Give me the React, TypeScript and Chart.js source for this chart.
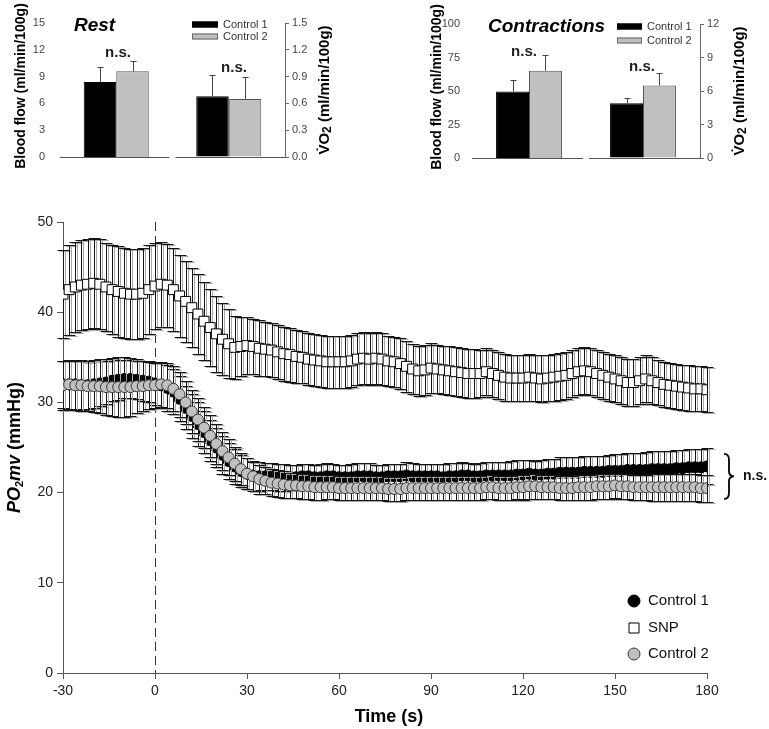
import React, { useEffect, useRef } from "react";
import { Chart, registerables } from "chart.js";
Chart.register(...registerables);

const FONT = "'Liberation Sans', Arial, Helvetica, sans-serif";

// ---------- Main chart data (PO2mv, mmHg) ----------
const TIME = [
  -30, -28, -26, -24, -22, -20, -18, -16, -14, -12,
  -10, -8, -6, -4, -2, 0, 2, 4, 6, 8,
  10, 12, 14, 16, 18, 20, 22, 24, 26, 28,
  30, 32, 34, 36, 38, 40, 42, 44, 46, 48,
  50, 52, 54, 56, 58, 60, 62, 64, 66, 68,
  70, 72, 74, 76, 78, 80, 82, 84, 86, 88,
  90, 92, 94, 96, 98, 100, 102, 104, 106, 108,
  110, 112, 114, 116, 118, 120, 122, 124, 126, 128,
  130, 132, 134, 136, 138, 140, 142, 144, 146, 148,
  150, 152, 154, 156, 158, 160, 162, 164, 166, 168,
  170, 172, 174, 176, 178, 180,
];

const SNP_MEAN = [
  42.0, 42.5, 42.8, 43.0, 43.1, 43.2, 43.1, 42.8, 42.5, 42.3,
  42.1, 42.0, 42.0, 42.1, 42.5, 42.9, 43.1, 43.0, 42.5, 41.8,
  41.2, 40.5, 39.8, 39.0, 38.3, 37.6, 37.0, 36.5, 36.1, 36.2,
  36.3, 36.2, 36.0, 35.9, 35.8, 35.6, 35.4, 35.3, 35.1, 35.0,
  34.8, 34.7, 34.6, 34.5, 34.5, 34.5, 34.5, 34.6, 34.8, 34.9,
  34.8, 34.9, 34.8, 34.6, 34.5, 34.3, 34.0, 33.7, 33.5, 33.6,
  33.8, 33.7, 33.6, 33.5, 33.4, 33.3, 33.2, 33.2, 33.2, 33.4,
  33.2, 33.0, 32.8, 32.7, 32.7, 32.7, 32.8, 32.7, 32.6, 32.7,
  32.8, 32.9, 33.0, 33.2, 33.4, 33.5, 33.4, 33.2, 33.0, 32.8,
  32.6, 32.4, 32.2, 32.2, 32.4, 32.6, 32.4, 32.2, 32.0, 31.9,
  31.8, 31.7, 31.6, 31.5, 31.5, 31.4,
];
const SNP_SD = [
  4.9, 5.0, 5.0, 5.0, 5.0, 5.0, 5.0, 4.9, 4.9, 5.0,
  5.0, 5.0, 5.0, 5.0, 4.9, 4.8, 4.7, 4.6, 4.6, 4.5,
  4.5, 4.4, 4.4, 4.3, 4.3, 4.2, 4.0, 3.8, 3.5, 3.3,
  3.2, 3.1, 3.1, 3.0, 3.0, 3.0, 3.0, 3.0, 2.9, 2.9,
  2.9, 2.9, 2.9, 2.9, 2.9, 2.9, 2.9, 2.9, 2.9, 2.9,
  2.9, 2.9, 2.9, 2.8, 2.8, 2.8, 2.8, 2.8, 2.8, 2.8,
  2.8, 2.7, 2.7, 2.7, 2.7, 2.7, 2.7, 2.7, 2.6, 2.6,
  2.6, 2.6, 2.6, 2.6, 2.6, 2.6, 2.6, 2.6, 2.6, 2.6,
  2.6, 2.6, 2.6, 2.6, 2.6, 2.6, 2.6, 2.6, 2.6, 2.6,
  2.6, 2.6, 2.6, 2.6, 2.6, 2.6, 2.6, 2.5, 2.5, 2.5,
  2.5, 2.5, 2.5, 2.5, 2.5, 2.5,
];

const C1_MEAN = [
  32.0, 32.0, 32.0, 31.9, 31.9, 32.0, 32.1, 32.2, 32.4, 32.5,
  32.6, 32.6, 32.5, 32.4, 32.3, 32.1, 31.9, 31.6, 31.2, 30.4,
  29.4, 28.5, 27.6, 26.7, 25.8, 25.0, 24.2, 23.5, 22.9, 22.4,
  22.1, 21.9, 21.8, 21.8, 21.8, 21.7, 21.7, 21.7, 21.7, 21.8,
  21.8, 21.7, 21.7, 21.8, 21.8, 21.7, 21.7, 21.7, 21.8, 21.8,
  21.8, 21.7, 21.7, 21.8, 21.8, 21.8, 21.9, 21.8, 21.8, 21.8,
  21.8, 21.8, 21.7, 21.8, 21.8, 21.9, 21.9, 21.8, 21.8, 21.9,
  21.9, 21.9, 21.9, 21.9, 22.0, 22.0, 22.1, 22.0, 22.0, 22.1,
  22.1, 22.2, 22.2, 22.2, 22.2, 22.3, 22.3, 22.3, 22.3, 22.4,
  22.4, 22.4, 22.5, 22.5, 22.5, 22.5, 22.6, 22.6, 22.6, 22.6,
  22.7, 22.7, 22.8, 22.8, 22.8, 22.9,
];
const C1_SD = [
  2.6, 2.7, 2.7, 2.7, 2.6, 2.6, 2.5, 2.4, 2.3, 2.2,
  2.1, 2.1, 2.1, 2.2, 2.3, 2.4, 2.5, 2.5, 2.5, 2.5,
  2.4, 2.4, 2.4, 2.3, 2.3, 2.2, 2.1, 2.0, 1.9, 1.8,
  1.7, 1.6, 1.6, 1.5, 1.5, 1.5, 1.5, 1.4, 1.4, 1.4,
  1.4, 1.4, 1.5, 1.5, 1.4, 1.4, 1.4, 1.5, 1.5, 1.5,
  1.5, 1.4, 1.4, 1.4, 1.4, 1.4, 1.5, 1.5, 1.4, 1.4,
  1.4, 1.4, 1.5, 1.5, 1.5, 1.5, 1.4, 1.4, 1.5, 1.5,
  1.5, 1.5, 1.5, 1.6, 1.6, 1.6, 1.5, 1.5, 1.6, 1.6,
  1.6, 1.7, 1.7, 1.7, 1.8, 1.8, 1.8, 1.8, 1.8, 1.8,
  1.9, 1.9, 1.9, 1.9, 1.9, 2.0, 2.0, 2.0, 2.0, 2.0,
  2.0, 2.0, 2.0, 2.0, 2.0, 2.0,
];

const C2_MEAN = [
  31.9, 32.0, 31.9, 31.9, 31.8, 31.8, 31.8, 31.7, 31.7, 31.7,
  31.7, 31.7, 31.8, 31.8, 31.9, 31.9, 32.0, 31.9, 31.5, 30.9,
  30.0, 29.0, 28.1, 27.2, 26.3, 25.4, 24.6, 23.9, 23.2, 22.6,
  22.1, 21.8, 21.5, 21.3, 21.1, 21.0, 20.9, 20.8, 20.8, 20.7,
  20.7, 20.6, 20.6, 20.6, 20.6, 20.5, 20.5, 20.5, 20.5, 20.5,
  20.5, 20.5, 20.5, 20.4, 20.4, 20.4, 20.5, 20.5, 20.5, 20.5,
  20.5, 20.5, 20.5, 20.5, 20.5, 20.5, 20.5, 20.5, 20.5, 20.6,
  20.6, 20.5, 20.5, 20.5, 20.6, 20.6, 20.7, 20.7, 20.6, 20.6,
  20.6, 20.5, 20.5, 20.5, 20.6, 20.6, 20.6, 20.7, 20.7, 20.7,
  20.8, 20.7, 20.7, 20.6, 20.6, 20.6, 20.6, 20.6, 20.6, 20.6,
  20.6, 20.6, 20.6, 20.6, 20.5, 20.5,
];
const C2_SD = [
  2.7, 2.7, 2.7, 2.8, 2.8, 2.9, 3.0, 3.1, 3.2, 3.3,
  3.3, 3.2, 3.0, 2.8, 2.6, 2.5, 2.5, 2.5, 2.5, 2.5,
  2.4, 2.4, 2.4, 2.3, 2.3, 2.2, 2.1, 2.0, 1.9, 1.8,
  1.7, 1.6, 1.6, 1.5, 1.5, 1.5, 1.5, 1.4, 1.4, 1.4,
  1.4, 1.4, 1.4, 1.3, 1.3, 1.3, 1.3, 1.3, 1.3, 1.3,
  1.3, 1.3, 1.3, 1.3, 1.3, 1.3, 1.3, 1.3, 1.3, 1.3,
  1.3, 1.3, 1.3, 1.3, 1.3, 1.3, 1.3, 1.3, 1.3, 1.3,
  1.3, 1.3, 1.3, 1.3, 1.3, 1.4, 1.4, 1.4, 1.3, 1.3,
  1.3, 1.3, 1.3, 1.3, 1.4, 1.4, 1.4, 1.4, 1.4, 1.4,
  1.4, 1.4, 1.4, 1.4, 1.4, 1.4, 1.5, 1.5, 1.5, 1.5,
  1.5, 1.5, 1.5, 1.5, 1.5, 1.5,
];

const X_MIN = -30;
const X_MAX = 180;
const X_STEP = 30;
const Y_MIN = 0;
const Y_MAX = 50;
const Y_STEP = 10;

// ---------- Inset data ----------
const GROUPS = ["Control 1", "Control 2"];
const REST_FLOW_MEAN = [8.4, 9.6];
const REST_FLOW_SD = [1.7, 1.2];
const REST_VO2_MEAN = [0.68, 0.65];
const REST_VO2_SD = [0.24, 0.24];
const CONTR_FLOW_MEAN = [49.6, 65.2];
const CONTR_FLOW_SD = [8.6, 12.0];
const CONTR_VO2_MEAN = [4.9, 6.5];
const CONTR_VO2_SD = [0.5, 1.1];

type Part = { t: string; font: string; dy?: number };

function drawParts(ctx: CanvasRenderingContext2D, parts: Part[], cx: number, cy: number, rotate: boolean, color: string) {
  ctx.save();
  ctx.translate(cx, cy);
  if (rotate) ctx.rotate(-Math.PI / 2);
  ctx.fillStyle = color;
  ctx.textBaseline = "middle";
  ctx.textAlign = "left";
  let total = 0;
  for (const p of parts) {
    ctx.font = p.font;
    total += ctx.measureText(p.t).width;
  }
  let x = -total / 2;
  for (const p of parts) {
    ctx.font = p.font;
    ctx.fillText(p.t, x, p.dy || 0);
    x += ctx.measureText(p.t).width;
  }
  ctx.restore();
}

const errorBarPlugin = {
  id: "errorBars",
  beforeDatasetDraw(chart: any, args: any) {
    const ds = chart.data.datasets[args.index];
    const sd: number[] | undefined = ds.sd;
    if (!sd) return;
    const xs = chart.scales.x;
    const ys = chart.scales.y;
    const ctx: CanvasRenderingContext2D = chart.ctx;
    ctx.save();
    const cap = 6;
    const drawSet = (dx: number, dy: number, color: string) => {
      ctx.strokeStyle = color;
      ctx.lineWidth = 1;
      ctx.beginPath();
      ds.data.forEach((p: any, i: number) => {
        const x = Math.round(xs.getPixelForValue(p.x)) + 0.5 + dx;
        const yT = Math.round(ys.getPixelForValue(p.y + sd[i])) + 0.5 + dy;
        const yB = Math.round(ys.getPixelForValue(p.y - sd[i])) + 0.5 + dy;
        ctx.moveTo(x, yT);
        ctx.lineTo(x, yB);
        ctx.moveTo(x - cap, yT);
        ctx.lineTo(x + cap, yT);
        ctx.moveTo(x - cap, yB);
        ctx.lineTo(x + cap, yB);
      });
      ctx.stroke();
    };
    drawSet(2, 1, "#a8a8a8");
    drawSet(0, 0, "#151515");
    ctx.restore();
  },
};

const mainOverlayPlugin = {
  id: "mainOverlay",
  beforeDatasetsDraw(chart: any) {
    const ctx: CanvasRenderingContext2D = chart.ctx;
    const xs = chart.scales.x;
    const a = chart.chartArea;
    const x = Math.round(xs.getPixelForValue(0)) + 0.5;
    ctx.save();
    ctx.strokeStyle = "#333";
    ctx.lineWidth = 1;
    ctx.setLineDash([9, 5]);
    ctx.beginPath();
    ctx.moveTo(x, a.top);
    ctx.lineTo(x, a.bottom);
    ctx.stroke();
    ctx.restore();
  },
  afterDraw(chart: any) {
    const ctx: CanvasRenderingContext2D = chart.ctx;
    const a = chart.chartArea;
    const ys = chart.scales.y;
    // axis titles
    drawParts(
      ctx,
      [
        { t: "PO", font: `italic bold 18px ${FONT}` },
        { t: "2", font: `bold 11px ${FONT}`, dy: 5 },
        { t: "mv", font: `italic bold 18px ${FONT}` },
        { t: " (mmHg)", font: `bold 18px ${FONT}` },
      ],
      15,
      (a.top + a.bottom) / 2,
      true,
      "#000"
    );
    drawParts(ctx, [{ t: "Time (s)", font: `bold 18px ${FONT}` }], (a.left + a.right) / 2 + 4, 717, false, "#000");

    // legend
    const order = ["Control 1", "SNP", "Control 2"];
    const lx = a.right - 73;
    const lys = [a.bottom - 72, a.bottom - 45, a.bottom - 19];
    order.forEach((lab, k) => {
      const ds = chart.data.datasets.find((d: any) => d.label === lab);
      const y = lys[k];
      ctx.save();
      ctx.fillStyle = ds.pointBackgroundColor;
      ctx.strokeStyle = ds.pointBorderColor;
      ctx.lineWidth = 1;
      ctx.beginPath();
      if (ds.pointStyle === "rect") {
        ctx.rect(lx - 5, y - 5, 10, 10);
      } else {
        ctx.arc(lx, y, 6, 0, Math.PI * 2);
      }
      ctx.fill();
      ctx.stroke();
      ctx.fillStyle = "#111";
      ctx.font = `15px ${FONT}`;
      ctx.textBaseline = "middle";
      ctx.textAlign = "left";
      ctx.fillText(lab, lx + 14, y);
      ctx.restore();
    });

    // brace + n.s.
    const bx = a.right + 17;
    const yT = ys.getPixelForValue(24.3);
    const yB = ys.getPixelForValue(19.3);
    const ym = (yT + yB) / 2;
    ctx.save();
    ctx.strokeStyle = "#000";
    ctx.lineWidth = 1.8;
    ctx.beginPath();
    ctx.moveTo(bx, yT);
    ctx.quadraticCurveTo(bx + 5, yT, bx + 5, yT + 6);
    ctx.lineTo(bx + 5, ym - 5);
    ctx.quadraticCurveTo(bx + 5, ym, bx + 10, ym);
    ctx.quadraticCurveTo(bx + 5, ym, bx + 5, ym + 5);
    ctx.lineTo(bx + 5, yB - 6);
    ctx.quadraticCurveTo(bx + 5, yB, bx, yB);
    ctx.stroke();
    ctx.fillStyle = "#111";
    ctx.font = `bold 14px ${FONT}`;
    ctx.textBaseline = "middle";
    ctx.textAlign = "left";
    ctx.fillText("n.s.", bx + 19, ym);
    ctx.restore();
  },
};

function MainChart() {
  const ref = useRef<HTMLCanvasElement>(null);
  useEffect(() => {
    const pts = (vals: number[]) => TIME.map((t, i) => ({ x: t, y: vals[i] }));
    const axisCommon = {
      grid: { display: true, drawOnChartArea: false, drawTicks: true, tickLength: 6, color: "#555" },
      border: { display: true, color: "#555" },
    };
    const chart = new Chart(ref.current!, {
      type: "scatter",
      data: {
        datasets: [
          {
            label: "Control 2",
            data: pts(C2_MEAN),
            sd: C2_SD,
            pointStyle: "circle",
            pointRadius: 5.5,
            pointBackgroundColor: "#c0c0c0",
            pointBorderColor: "#3a3a3a",
            pointBorderWidth: 1,
            order: 1,
          } as any,
          {
            label: "Control 1",
            data: pts(C1_MEAN),
            sd: C1_SD,
            pointStyle: "circle",
            pointRadius: 5.5,
            pointBackgroundColor: "#000",
            pointBorderColor: "#000",
            pointBorderWidth: 1,
            order: 2,
          } as any,
          {
            label: "SNP",
            data: pts(SNP_MEAN),
            sd: SNP_SD,
            pointStyle: "rect",
            pointRadius: 7,
            pointBackgroundColor: "#fff",
            pointBorderColor: "#000",
            pointBorderWidth: 1,
            order: 3,
          } as any,
        ],
      },
      options: {
        animation: false,
        responsive: false,
        events: [],
        layout: { padding: { top: 222, right: 62, left: 0, bottom: 0 } },
        plugins: { legend: { display: false }, tooltip: { enabled: false } },
        scales: {
          x: {
            type: "linear",
            min: X_MIN,
            max: X_MAX,
            ...axisCommon,
            ticks: { stepSize: X_STEP, color: "#222", font: { family: FONT, size: 14 }, padding: 4, maxRotation: 0 },
            afterFit: (s: any) => {
              s.height = 56;
            },
          },
          y: {
            min: Y_MIN,
            max: Y_MAX,
            ...axisCommon,
            ticks: { stepSize: Y_STEP, color: "#222", font: { family: FONT, size: 14 }, padding: 4 },
            afterFit: (s: any) => {
              s.width = 63;
            },
          },
        },
      } as any,
      plugins: [errorBarPlugin, mainOverlayPlugin],
    });
    return () => chart.destroy();
  }, []);
  return <canvas ref={ref} width={769} height={729} style={{ position: "absolute", left: 0, top: 0 }} />;
}

type InsetCfg = {
  left: number;
  width: number;
  height: number;
  areaLeft: number;
  areaRight: number;
  areaTop: number;
  areaBottom: number;
  flowMax: number;
  flowStep: number;
  vo2Max: number;
  vo2Step: number;
  vo2Dec: number;
  flowMean: number[];
  flowSd: number[];
  vo2Mean: number[];
  vo2Sd: number[];
  title: string;
  titleX: number;
  titleY: number;
  legendX: number;
  legendW: number;
  legendY: number[];
  ns: number[][];
  flowTitleX: number;
  vo2TitleX: number;
  labelPad: number;
};

const insetPlugin = {
  id: "insetOverlay",
  afterDatasetsDraw(chart: any) {
    const ctx: CanvasRenderingContext2D = chart.ctx;
    const cfg: InsetCfg = chart.options.plugins.insetOverlay.cfg;
    const a = chart.chartArea;
    const xs = chart.scales.x;
    // split baseline
    const c0 = xs.getPixelForValue(0);
    const c1 = xs.getPixelForValue(1);
    const mid = (c0 + c1) / 2;
    ctx.save();
    ctx.strokeStyle = "#555";
    ctx.lineWidth = 1;
    ctx.beginPath();
    const by = Math.round(a.bottom) + 0.5;
    ctx.moveTo(a.left, by);
    ctx.lineTo(mid - 3, by);
    ctx.moveTo(mid + 3, by);
    ctx.lineTo(a.right, by);
    ctx.stroke();
    // error bars (upward)
    ctx.strokeStyle = "#444";
    chart.data.datasets.forEach((ds: any, di: number) => {
      const meta = chart.getDatasetMeta(di);
      const sc = chart.scales[ds.yAxisID];
      ds.data.forEach((v: number | null, i: number) => {
        if (v == null) return;
        const el = meta.data[i];
        const x = Math.round(el.x) + 0.5;
        const top = Math.round(sc.getPixelForValue(v + ds.err[i])) + 0.5;
        const y0 = sc.getPixelForValue(v);
        ctx.beginPath();
        ctx.moveTo(x, y0);
        ctx.lineTo(x, top);
        ctx.moveTo(x - 3, top);
        ctx.lineTo(x + 3, top);
        ctx.stroke();
      });
    });
    ctx.restore();

    // title
    ctx.save();
    ctx.fillStyle = "#000";
    ctx.font = `italic bold 19px ${FONT}`;
    ctx.textBaseline = "middle";
    ctx.textAlign = "left";
    ctx.fillText(cfg.title, cfg.titleX, cfg.titleY);
    // legend
    const fills = ["#000", "#c0c0c0"];
    GROUPS.forEach((g, k) => {
      const y = cfg.legendY[k];
      ctx.fillStyle = fills[k];
      ctx.fillRect(cfg.legendX, y - 3, cfg.legendW, 6);
      ctx.strokeStyle = k === 0 ? "#000" : "#666";
      ctx.lineWidth = 1;
      ctx.strokeRect(cfg.legendX + 0.5, y - 2.5, cfg.legendW - 1, 5);
      ctx.fillStyle = "#333";
      ctx.font = `11px ${FONT}`;
      ctx.fillText(g, cfg.legendX + cfg.legendW + 5, y);
    });
    // n.s.
    ctx.font = `bold 15px ${FONT}`;
    ctx.textAlign = "center";
    ctx.fillStyle = "#222";
    cfg.ns.forEach((p) => ctx.fillText("n.s.", p[0], p[1]));
    ctx.restore();

    // axis titles
    drawParts(ctx, [{ t: "Blood flow (ml/min/100g)", font: `bold 14px ${FONT}` }], cfg.flowTitleX, (a.top + a.bottom) / 2 - 4, true, "#000");
    drawParts(
      ctx,
      [
        { t: "V\u0307O", font: `bold 15px ${FONT}` },
        { t: "2", font: `bold 12px ${FONT}`, dy: 3 },
        { t: " (ml/min/100g)", font: `bold 15px ${FONT}` },
      ],
      cfg.vo2TitleX,
      (a.top + a.bottom) / 2,
      true,
      "#000"
    );
  },
};

function InsetChart({ cfg }: { cfg: InsetCfg }) {
  const ref = useRef<HTMLCanvasElement>(null);
  useEffect(() => {
    const tickFont = { family: FONT, size: 11 };
    const mk = (k: number, vals: number[], sds: number[], axis: string, slot: number) => ({
      label: GROUPS[k],
      data: slot === 0 ? [vals[k], null] : [null, vals[k]],
      err: slot === 0 ? [sds[k], null] : [null, sds[k]],
      yAxisID: axis,
      backgroundColor: k === 0 ? "#000" : "#c0c0c0",
      borderColor: k === 0 ? "#000" : "#555",
      borderWidth: 1,
      skipNull: true,
      categoryPercentage: 0.578,
      barPercentage: 1.0,
    });
    const chart = new Chart(ref.current!, {
      type: "bar",
      data: {
        labels: ["Blood flow", "VO2"],
        datasets: [
          mk(0, cfg.flowMean, cfg.flowSd, "y", 0),
          mk(1, cfg.flowMean, cfg.flowSd, "y", 0),
          mk(0, cfg.vo2Mean, cfg.vo2Sd, "y2", 1),
          mk(1, cfg.vo2Mean, cfg.vo2Sd, "y2", 1),
        ] as any,
      },
      options: {
        animation: false,
        responsive: false,
        events: [],
        layout: { padding: { top: cfg.areaTop, bottom: cfg.height - cfg.areaBottom, left: 0, right: 0 } },
        plugins: { legend: { display: false }, tooltip: { enabled: false }, insetOverlay: { cfg } },
        scales: {
          x: { display: false },
          y: {
            position: "left",
            min: 0,
            max: cfg.flowMax,
            ticks: { stepSize: cfg.flowStep, color: "#444", font: tickFont, padding: cfg.labelPad },
            grid: { display: false },
            border: { display: false },
            afterFit: (s: any) => {
              s.width = cfg.areaLeft;
            },
          },
          y2: {
            position: "right",
            min: 0,
            max: cfg.vo2Max,
            ticks: {
              stepSize: cfg.vo2Step,
              color: "#444",
              font: tickFont,
              padding: 3,
              callback: (v: any) => Number(v).toFixed(cfg.vo2Dec),
            },
            grid: { display: true, drawOnChartArea: false, drawTicks: true, tickLength: 4, color: "#666" },
            border: { display: true, color: "#666" },
            afterFit: (s: any) => {
              s.width = cfg.width - cfg.areaRight;
            },
          },
        },
      } as any,
      plugins: [insetPlugin],
    });
    return () => chart.destroy();
  }, [cfg]);
  return (
    <canvas
      ref={ref}
      width={cfg.width}
      height={cfg.height}
      style={{ position: "absolute", left: cfg.left, top: 0 }}
    />
  );
}

const REST_CFG: InsetCfg = {
  left: 0,
  width: 350,
  height: 182,
  areaLeft: 60,
  areaRight: 285,
  areaTop: 23,
  areaBottom: 157,
  flowMax: 15,
  flowStep: 3,
  vo2Max: 1.5,
  vo2Step: 0.3,
  vo2Dec: 1,
  flowMean: REST_FLOW_MEAN,
  flowSd: REST_FLOW_SD,
  vo2Mean: REST_VO2_MEAN,
  vo2Sd: REST_VO2_SD,
  title: "Rest",
  titleX: 74,
  titleY: 26,
  legendX: 192,
  legendW: 26,
  legendY: [24.5, 36.5],
  ns: [
    [118, 53],
    [234, 68],
  ],
  flowTitleX: 21,
  vo2TitleX: 325,
  labelPad: 7,
};

const CONTR_CFG: InsetCfg = {
  left: 400,
  width: 369,
  height: 182,
  areaLeft: 72,
  areaRight: 300,
  areaTop: 24,
  areaBottom: 158,
  flowMax: 100,
  flowStep: 25,
  vo2Max: 12,
  vo2Step: 3,
  vo2Dec: 0,
  flowMean: CONTR_FLOW_MEAN,
  flowSd: CONTR_FLOW_SD,
  vo2Mean: CONTR_VO2_MEAN,
  vo2Sd: CONTR_VO2_SD,
  title: "Contractions",
  titleX: 88,
  titleY: 27,
  legendX: 217,
  legendW: 25,
  legendY: [26.5, 40.5],
  ns: [
    [124, 52],
    [242, 67],
  ],
  flowTitleX: 37,
  vo2TitleX: 340,
  labelPad: 4,
};

export default function App() {
  return (
    <div style={{ position: "fixed", left: 0, top: 0, width: 769, height: 729, background: "#fff", overflow: "hidden" }}>
      <MainChart />
      <InsetChart cfg={REST_CFG} />
      <InsetChart cfg={CONTR_CFG} />
    </div>
  );
}
